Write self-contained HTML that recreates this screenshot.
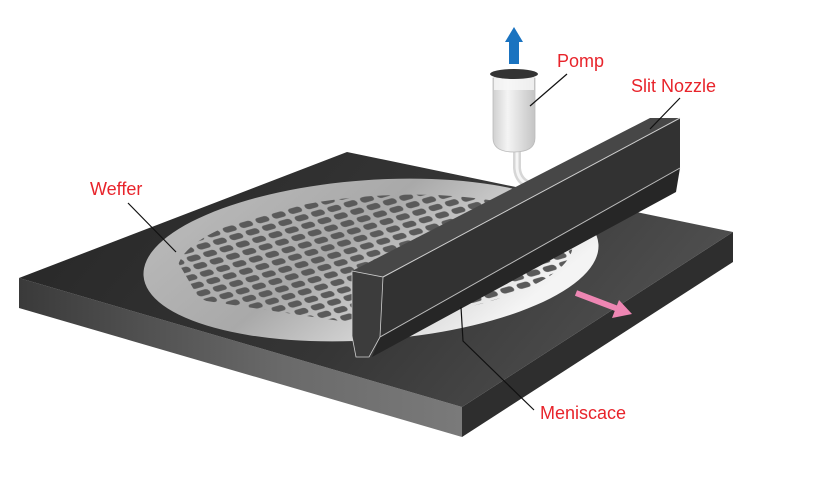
<!DOCTYPE html>
<html><head><meta charset="utf-8"><style>
html,body{margin:0;padding:0;background:#fff;width:821px;height:493px;overflow:hidden}
svg{display:block}
text{font-family:"Liberation Sans",sans-serif;fill:#e8242b;font-size:18px}
</style></head><body>
<svg width="821" height="493" viewBox="0 0 821 493" xmlns="http://www.w3.org/2000/svg">
<defs>
<linearGradient id="top" x1="0" y1="0" x2="1" y2="0.3">
<stop offset="0" stop-color="#262626"/><stop offset="0.6" stop-color="#353535"/><stop offset="1" stop-color="#4e4e4e"/></linearGradient>
<linearGradient id="front" x1="0" y1="0" x2="1" y2="0">
<stop offset="0" stop-color="#3a3a3a"/><stop offset="0.6" stop-color="#6a6a6a"/><stop offset="1" stop-color="#7a7a7a"/></linearGradient>
<linearGradient id="waf" x1="0" y1="0" x2="1" y2="0.5">
<stop offset="0" stop-color="#bdbdbd"/><stop offset="0.5" stop-color="#a9a9a9"/><stop offset="0.8" stop-color="#d8d8d8"/><stop offset="1" stop-color="#f4f4f4"/></linearGradient>
<linearGradient id="cup" x1="0" y1="0" x2="1" y2="0">
<stop offset="0" stop-color="#d0d0d0"/><stop offset="0.35" stop-color="#f4f4f4"/><stop offset="1" stop-color="#c4c4c4"/></linearGradient>
<pattern id="chips" width="17" height="9" patternUnits="userSpaceOnUse" patternTransform="rotate(-16) skewX(25)">
<rect x="2" y="1.5" width="13" height="6" rx="3" fill="#5a5a5a"/></pattern>
<clipPath id="wc"><ellipse cx="375" cy="258" rx="198" ry="62" transform="rotate(-4 375 258)"/></clipPath>
</defs>
<polygon points="19,278 462,407 462,437 19,308" fill="url(#front)"/>
<polygon points="462,407 733,232 733,262 462,437" fill="#2e2e2e"/>
<polygon points="347,152 733,232 462,407 19,278" fill="url(#top)"/>
<ellipse cx="371" cy="260" rx="228" ry="80" transform="rotate(-4 371 260)" fill="url(#waf)"/>
<g clip-path="url(#wc)">
<polygon points="165,240 240,205 310,192 400,180 470,180 600,240 560,300 400,330 200,300" fill="url(#chips)"/>
</g>
<path d="M517,148 L517,168 Q518,182 532,186" stroke="#d6d6d6" stroke-width="8" fill="none"/>
<path d="M517,148 L517,168 Q518,182 532,186" stroke="#f5f5f5" stroke-width="3" fill="none"/>
<path d="M493,78 L535,78 L535,138 Q535,152 514,152 Q493,152 493,138 Z" fill="url(#cup)" stroke="#bbb" stroke-width="0.8"/>
<rect x="494" y="78" width="40" height="12" fill="#f8f8f8" opacity="0.8"/>
<ellipse cx="514" cy="74" rx="24" ry="5" fill="#333"/>
<polygon points="514,27 523,42 519,42 519,64 509,64 509,42 505,42" fill="#1a73c0"/>
<polygon points="383,277 680,118 680,168 380,337" fill="#323232"/>
<polygon points="380,337 680,168 676,192 372,357" fill="#262626"/>
<polygon points="352,271 650,118 680,118 383,277" fill="#474747"/>
<polygon points="352,271 383,277 380,337 369,357 356,357 352,336" fill="#3c3c3c" stroke="#cfcfcf" stroke-width="0.8"/>
<line x1="383" y1="277" x2="680" y2="118" stroke="#cfcfcf" stroke-width="1"/>
<line x1="380" y1="337" x2="680" y2="168" stroke="#bdbdbd" stroke-width="1"/>
<line x1="576" y1="293" x2="618" y2="309" stroke="#ee86b3" stroke-width="6"/>
<polygon points="632,314 612,318 619,300" fill="#ee86b3"/>
<g stroke="#111" stroke-width="1.2" fill="none">
<line x1="567" y1="74" x2="530" y2="106"/>
<line x1="680" y1="98" x2="650" y2="129"/>
<line x1="128" y1="203" x2="176" y2="252"/>
<polyline points="461,307 463,341 534,410"/>
</g>
<text x="557" y="67">Pomp</text>
<text x="631" y="92">Slit Nozzle</text>
<text x="90" y="195">Weffer</text>
<text x="540" y="419">Meniscace</text>
</svg>
</body></html>
